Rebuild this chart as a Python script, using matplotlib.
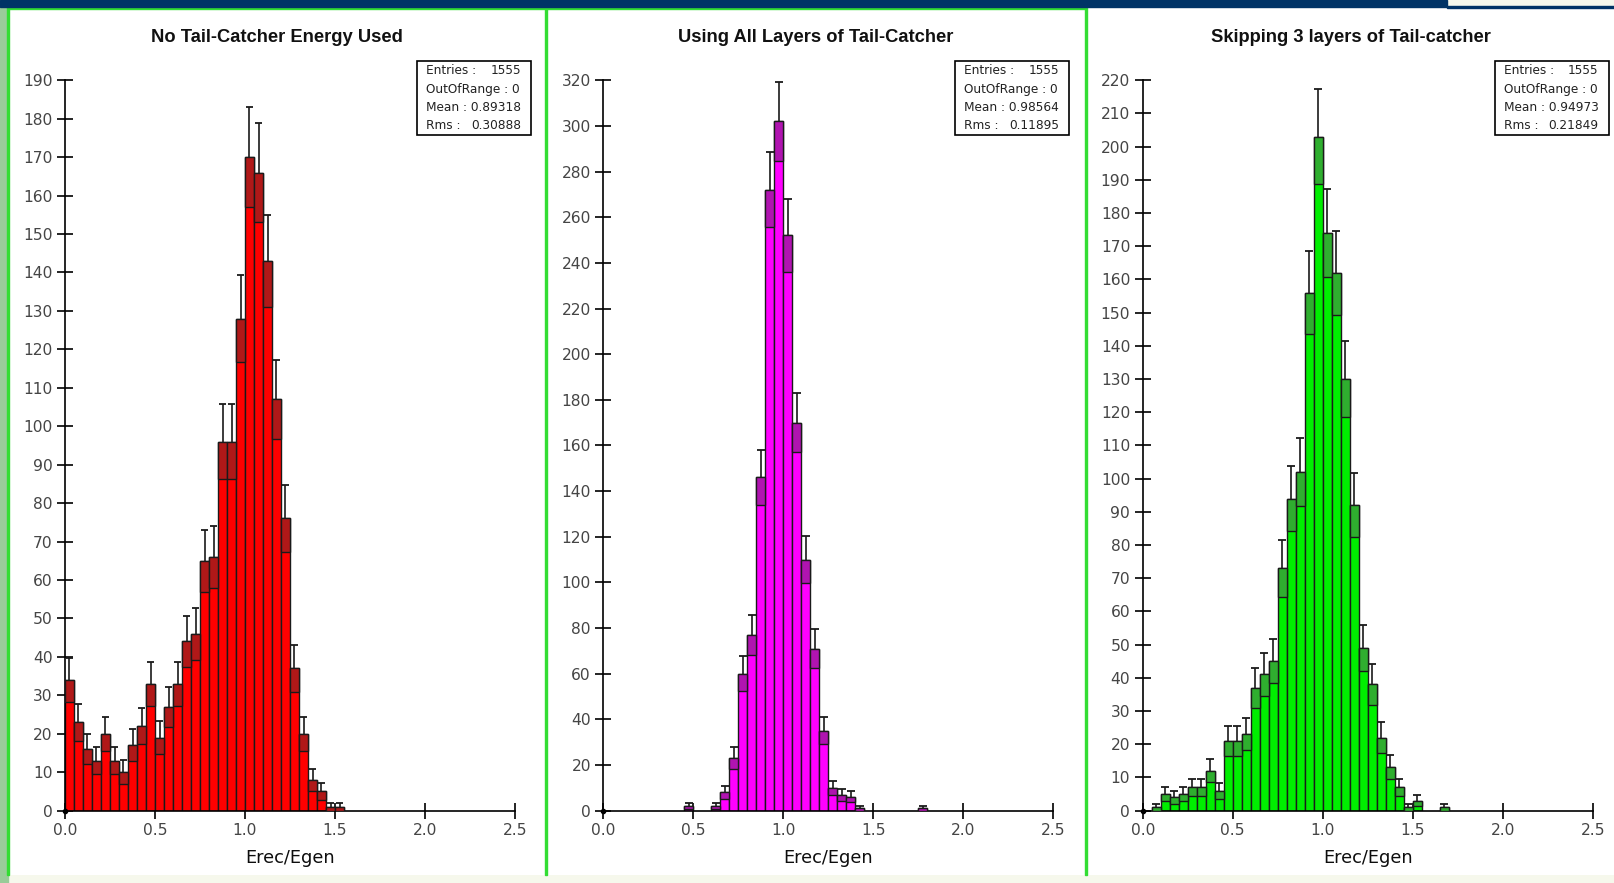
import numpy as np
import matplotlib.pyplot as plt
from matplotlib.patches import Rectangle

W, H = 1615, 883

# 50 bins of width 0.05 on Erec/Egen in [0, 2.5]
bin_width = 0.05
bin_lo = np.round(np.arange(50) * bin_width, 2)

no_tc = [34, 23, 16, 13, 20, 13, 10, 17, 22, 33,
         19, 27, 33, 44, 46, 65, 66, 96, 96, 128,
         170, 166, 143, 107, 76, 37, 20, 8, 5, 1,
         1, 0, 0, 0, 0, 0, 0, 0, 0, 0,
         0, 0, 0, 0, 0, 0, 0, 0, 0, 0]
all_tc = [0, 0, 0, 0, 0, 0, 0, 0, 0, 2,
          0, 0, 2, 8, 23, 60, 77, 146, 272, 302,
          252, 170, 110, 71, 35, 10, 7, 6, 1, 0,
          0, 0, 0, 0, 0, 1, 0, 0, 0, 0,
          0, 0, 0, 0, 0, 0, 0, 0, 0, 0]
skip3_tc = [0, 1, 5, 4, 5, 7, 7, 12, 6, 21,
            21, 23, 37, 41, 45, 73, 94, 102, 156, 203,
            174, 162, 130, 92, 49, 38, 22, 13, 7, 1,
            3, 0, 0, 1, 0, 0, 0, 0, 0, 0,
            0, 0, 0, 0, 0, 0, 0, 0, 0, 0]

titles = ["No Tail-Catcher Energy Used",
          "Using All Layers of Tail-Catcher",
          "Skipping 3 layers of Tail-catcher"]
entries = ["1555", "1555", "1555"]
out_of_range = ["0", "0", "0"]
means = ["0.89318", "0.98564", "0.94973"]
rms = ["0.30888", "0.11895", "0.21849"]

y_max = [190, 320, 220]
y_step = [10, 20, 10]
fills = ["#ff0000", "#ff00ff", "#00ee00"]
shades = ["#b01818", "#b014b0", "#2fae2f"]


def fx(x):
    return x / W


def fy(y):
    return 1 - y / H


fig = plt.figure(figsize=(W / 100, H / 100), dpi=100)
fig.patch.set_facecolor("white")


def fig_rect(x0, y0, x1, y1, **kw):
    fig.patches.append(Rectangle((fx(x0), fy(y1)), fx(x1 - x0), (y1 - y0) / H,
                                 transform=fig.transFigure, **kw))


# slide decoration: banner, side strip, panel frames (kept behind the axes)
fig_rect(0, 0, W, H, color="#f6f8ec", zorder=-5)
fig_rect(0, 0, 8, H, color="#99cc99", zorder=-4)
panel_x = [(8, 546), (546, 1086), (1086, W)]
for x0, x1 in panel_x:
    fig_rect(x0, 7, x1, 875, facecolor="white", edgecolor="none", zorder=-3)
for xl in [8, 546, 1086]:
    fig_rect(xl - 0.8, 7, xl + 0.8, 875, color="#33dd33", zorder=-2)
fig_rect(8, 7, 1086, 8.5, color="#33dd33", zorder=-2)
fig_rect(0, 0, 1447, 7, color="#003366", zorder=-1)
fig_rect(1447, 6, W, 7.5, color="#003366", zorder=-1)

ax_left = [65, 603.5, 1142.7]
ax_bottom, ax_top = 810.6, 80.3
counts_all = [no_tc, all_tc, skip3_tc]

for i in range(3):
    ax = fig.add_axes([fx(ax_left[i]), fy(ax_bottom), fx(450), (ax_bottom - ax_top) / H])
    ax.set_facecolor("none")
    n = np.array(counts_all[i], dtype=float)
    err = np.sqrt(n)
    mask = n > 0
    lo = bin_lo[mask]
    c = lo + bin_width / 2

    # bar, shaded band from N - sqrt(N) to N, then the upper error bar
    ax.bar(lo, n[mask], width=bin_width, align="edge", color=fills[i],
           edgecolor="#1a1a1a", linewidth=1.0, zorder=2)
    ax.bar(lo, err[mask], bottom=n[mask] - err[mask], width=bin_width, align="edge",
           color=shades[i], edgecolor="#1a1a1a", linewidth=1.0, zorder=3)
    ax.vlines(c, n[mask], n[mask] + err[mask], color="#1a1a1a", lw=1.2, zorder=4)
    ax.hlines(n[mask] + err[mask], c - 0.022, c + 0.022, color="#1a1a1a", lw=1.3, zorder=4)
    ax.plot([0], [0], "o", color="black", ms=3, clip_on=False, zorder=5)

    ax.set_xlim(0, 2.5)
    ax.set_ylim(0, y_max[i])
    ax.set_xticks(np.arange(0, 2.51, 0.5))
    ax.set_xticklabels([f"{v:.1f}" for v in np.arange(0, 2.51, 0.5)])
    ax.set_yticks(np.arange(0, y_max[i] + 1, y_step[i]))
    for s in ["top", "right"]:
        ax.spines[s].set_visible(False)
    for s in ["left", "bottom"]:
        ax.spines[s].set_linewidth(1.2)
    ax.tick_params(direction="inout", length=12, width=1.2, labelsize=11.2,
                   labelcolor="#454545", pad=3)
    ax.set_xlabel("Erec/Egen", fontsize=12.8, color="#0d0d0d", labelpad=8)

    cx = (panel_x[i][0] + panel_x[i][1]) / 2
    fig.text(fx(cx if i < 2 else 1351), fy(37), titles[i], ha="center", va="center",
             fontsize=13.2, fontweight="bold", family="Liberation Sans", color="#111111")

    # statistics box
    bx0 = ax_left[i] + 352
    bx1 = bx0 + 114
    fig_rect(bx0, 61, bx1, 135, facecolor="white", edgecolor="black", lw=1.2, zorder=3)
    rows = [("Entries :", entries[i]), ("OutOfRange : " + out_of_range[i], None),
            ("Mean : " + means[i], None), ("Rms :", rms[i])]
    for k, (left, right) in enumerate(rows):
        yy = fy(71 + k * 18.3)
        fig.text(fx(bx0 + 9), yy, left, ha="left", va="center", fontsize=8.7,
                 color="#222222", zorder=4)
        if right is not None:
            fig.text(fx(bx1 - 10), yy, right, ha="right", va="center", fontsize=8.7,
                     color="#222222", zorder=4)

fig.savefig("out.png", dpi=100)
